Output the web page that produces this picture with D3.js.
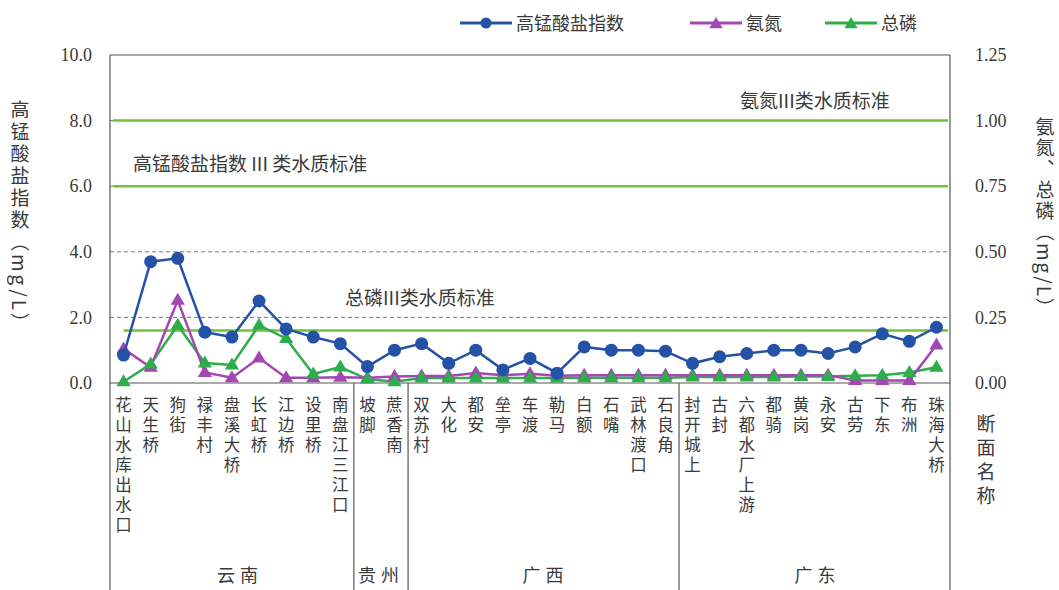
<!DOCTYPE html>
<html><head><meta charset="utf-8">
<script src="https://cdn.jsdelivr.net/npm/d3@7"></script>
<style>
body{margin:0;background:#fff;}
text{fill:#3a3a3a;}
.cjk{font-family:"Noto Sans CJK SC","Noto Sans",sans-serif;}
</style></head>
<body>
<svg id="c" width="1059" height="590"></svg>
<script>
const stations = ["花山水库出水口","天生桥","狗街","禄丰村","盘溪大桥","长虹桥","江边桥","设里桥","南盘江三江口",
"坡脚","蔗香南",
"双苏村","大化","都安","垒亭","车渡","勒马","白额","石嘴","武林渡口","石良角",
"封开城上","古封","六都水厂上游","都骑","黄岗","永安","古劳","下东","布洲","珠海大桥"];
const provinces = ["云南","贵州","广西","广东"];
const provinceCounts = [9,2,10,10];
const codmn = [0.85,3.7,3.8,1.55,1.4,2.5,1.65,1.4,1.2,0.5,1.0,1.2,0.6,1.0,0.4,0.75,0.3,1.1,1.0,1.0,0.97,0.6,0.8,0.9,1.0,1.0,0.9,1.1,1.5,1.27,1.7];
const nh3n = [0.13,0.06,0.315,0.04,0.02,0.095,0.02,0.02,0.022,0.02,0.025,0.027,0.027,0.038,0.03,0.035,0.028,0.03,0.03,0.03,0.03,0.03,0.03,0.03,0.03,0.03,0.03,0.01,0.01,0.01,0.145];
const tp = [0.005,0.072,0.22,0.076,0.069,0.22,0.17,0.034,0.061,0.015,0.005,0.019,0.019,0.019,0.019,0.019,0.019,0.02,0.02,0.02,0.02,0.023,0.023,0.023,0.023,0.025,0.025,0.028,0.03,0.04,0.06];
const leftTicks = [0,2,4,6,8,10];
const rightTicks = [0,0.25,0.5,0.75,1.0,1.25];
const stdCod = 6, stdNH3 = 1.0, stdTP = 0.2;
const seriesNames = ["高锰酸盐指数","氨氮","总磷"];

const svg = d3.select("#c");
const L=110,R=950,T=55,B=383,BOT=590;
const x = d3.scaleBand().domain(stations).range([L,R]);
const yL = d3.scaleLinear().domain([0,10]).range([B,T]);
const yR = d3.scaleLinear().domain([0,1.25]).range([B,T]);
const cx = d => x(d)+x.bandwidth()/2;
const cBlue="#2352a6", cPurple="#a447b4", cGreen="#2eae4a", cStd="#72c23a";
const serif = '"Liberation Serif","DejaVu Serif",serif';

// gridlines
svg.append("g").selectAll("line").data([2,4,6,8]).join("line")
 .attr("x1",L).attr("x2",R).attr("y1",d=>yL(d)).attr("y2",d=>yL(d))
 .attr("stroke","#777").attr("stroke-width",1).attr("stroke-dasharray","4,3");

// standard lines
svg.append("line").attr("x1",L+3).attr("x2",R-2).attr("y1",yR(stdNH3)).attr("y2",yR(stdNH3)).attr("stroke",cStd).attr("stroke-width",2.5);
svg.append("line").attr("x1",L+3).attr("x2",R-2).attr("y1",yL(stdCod)).attr("y2",yL(stdCod)).attr("stroke",cStd).attr("stroke-width",2.5);
svg.append("line").attr("x1",cx(stations[0])).attr("x2",R-2).attr("y1",yR(stdTP)).attr("y2",yR(stdTP)).attr("stroke",cStd).attr("stroke-width",2.5);

// frame
const fr = svg.append("g").attr("stroke","#555").attr("stroke-width",1.2);
fr.append("line").attr("x1",L).attr("x2",R).attr("y1",T).attr("y2",T);
fr.append("line").attr("x1",L).attr("x2",L).attr("y1",T).attr("y2",BOT);
fr.append("line").attr("x1",R).attr("x2",R).attr("y1",T).attr("y2",BOT);
fr.append("line").attr("x1",L).attr("x2",R).attr("y1",B).attr("y2",B);
let acc=0;
const bounds=[];
provinceCounts.forEach(n=>{bounds.push([acc,acc+n]);acc+=n;});
bounds.slice(0,-1).forEach(b=>{
  const xx = x(stations[b[1]]);
  fr.append("line").attr("x1",xx).attr("x2",xx).attr("y1",B).attr("y2",BOT);
});

// axes
const axL = svg.append("g").attr("transform",`translate(${L},0)`).call(d3.axisLeft(yL).tickValues(leftTicks).tickFormat(d3.format(".1f")).tickSize(0).tickPadding(18));
axL.select(".domain").remove();
axL.attr("font-family",null).attr("font-size",null);
axL.selectAll("text").style("font-family",serif).style("font-size","18px").style("fill","#3a3a3a");
const axR = svg.append("g").attr("transform",`translate(${R},0)`).call(d3.axisRight(yR).tickValues(rightTicks).tickFormat(d3.format(".2f")).tickSize(0).tickPadding(25));
axR.select(".domain").remove();
axR.attr("font-family",null).attr("font-size",null);
axR.selectAll("text").style("font-family",serif).style("font-size","18px").style("fill","#3a3a3a");

// x labels (vertical)
svg.append("g").selectAll("text").data(stations).join("text").attr("class","cjk")
 .attr("x",d=>cx(d)).attr("y",396)
 .attr("writing-mode","vertical-rl").style("text-orientation","upright")
 .style("font-size","16.5px").style("letter-spacing","3.5px")
 .text(d=>d);

// province labels
svg.append("g").selectAll("text").data(provinces).join("text").attr("class","cjk")
 .attr("x",(d,i)=>(x(stations[bounds[i][0]]) + (bounds[i][1]<stations.length? x(stations[bounds[i][1]]) : R))/2 + (i==0?8:(i==2?2:(i==3?3:0))))
 .attr("y",582).attr("text-anchor","middle").style("font-size","18px").style("letter-spacing","5px")
 .text(d=>d);

// axis titles
svg.append("text").attr("class","cjk").attr("x",20).attr("y",100)
 .attr("writing-mode","vertical-rl").style("font-size","19px").style("letter-spacing","3px")
 .text("高锰酸盐指数（mg/L）");
svg.append("text").attr("class","cjk").attr("x",1045).attr("y",117)
 .attr("writing-mode","vertical-rl").style("font-size","19px").style("letter-spacing","2px")
 .text("氨氮、总磷（mg/L）");
svg.append("text").attr("class","cjk").attr("x",986).attr("y",414)
 .attr("writing-mode","vertical-rl").style("text-orientation","upright").style("font-size","19px").style("letter-spacing","5px")
 .text("断面名称");

// annotations
svg.append("text").attr("class","cjk").attr("x",740).attr("y",108).style("font-size","19px").text("氨氮III类水质标准");
svg.append("text").attr("class","cjk").attr("x",133).attr("y",171).style("font-size","19px").text("高锰酸盐指数 III 类水质标准");
svg.append("text").attr("class","cjk").attr("x",345).attr("y",305).style("font-size","19px").text("总磷III类水质标准");

// series
function triangle(g,cxp,cyp,col,s){
  g.append("path").attr("d",`M${cxp},${cyp-s}L${cxp+s*0.95},${cyp+s*0.6}L${cxp-s*0.95},${cyp+s*0.6}Z`).attr("fill",col);
}
const line = (sc,vals)=>d3.line().x((d,i)=>cx(stations[i])).y(d=>sc(d))(vals);
const gS = svg.append("g");
gS.append("path").attr("d",line(yR,tp)).attr("fill","none").attr("stroke",cGreen).attr("stroke-width",2.5);
gS.append("path").attr("d",line(yR,nh3n)).attr("fill","none").attr("stroke",cPurple).attr("stroke-width",2.5);
nh3n.forEach((v,i)=>triangle(gS,cx(stations[i]),yR(v),cPurple,7.5));
tp.forEach((v,i)=>triangle(gS,cx(stations[i]),yR(v),cGreen,7.5));
gS.append("path").attr("d",line(yL,codmn)).attr("fill","none").attr("stroke",cBlue).attr("stroke-width",2.5);
gS.selectAll("circle").data(codmn).join("circle").attr("cx",(d,i)=>cx(stations[i])).attr("cy",d=>yL(d)).attr("r",6.5).attr("fill",cBlue);

// legend
const lg = svg.append("g");
const legItems=[{x:460,c:cBlue,t:"c"},{x:690,c:cPurple,t:"t"},{x:825,c:cGreen,t:"t"}];
legItems.forEach((it,i)=>{
  lg.append("line").attr("x1",it.x).attr("x2",it.x+52).attr("y1",23).attr("y2",23).attr("stroke",it.c).attr("stroke-width",3);
  if(it.t=="c") lg.append("circle").attr("cx",it.x+26).attr("cy",23).attr("r",5.5).attr("fill",it.c);
  else triangle(lg,it.x+26,24,it.c,7);
  lg.append("text").attr("class","cjk").attr("x",it.x+56).attr("y",30).style("font-size","18px").text(seriesNames[i]);
});
</script>
</body></html>
